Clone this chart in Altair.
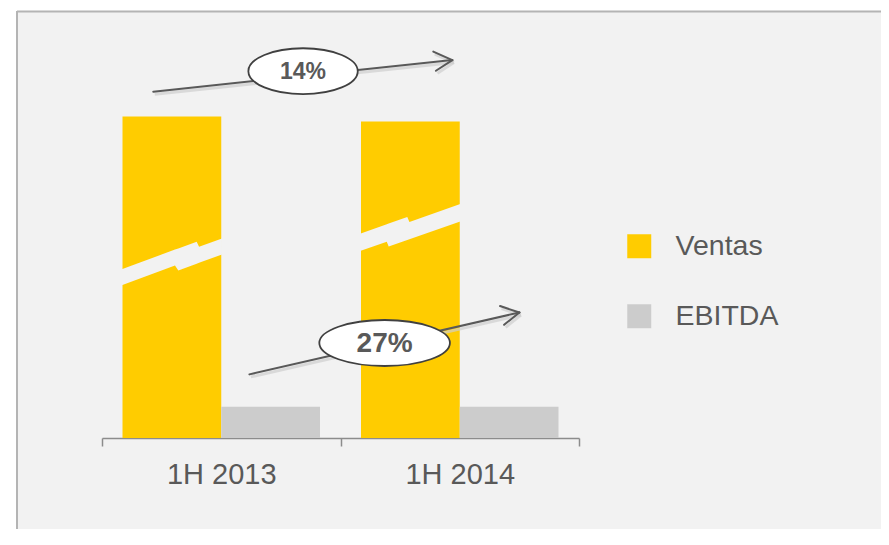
import altair as alt
import pandas as pd

# ---------------- data ----------------
periodos = ["1H 2013", "1H 2014"]
series = ["Ventas", "EBITDA"]
ventas = [75.3, 74.1]
ebitda = [7.3, 7.3]

# growth annotations (x in period units: 0..2, y in value units)
crec_labels = ["14%", "27%"]
crec_x = [0.843, 1.185]
crec_y = [85.9, 22.25]

arrow_start_x = [0.215, 0.618]
arrow_start_y = [81.1, 14.9]
arrow_tip_x = [1.469, 1.750]
arrow_tip_y = [88.5, 29.4]
arm1_x = [1.389, 1.669]
arm1_y = [90.5, 30.9]
arm2_x = [1.400, 1.686]
arm2_y = [86.0, 26.5]

# axis-break bands through the Ventas bars
brk13_x = [0.080, 0.306, 0.320, 0.397, 0.407, 0.503]
brk13_top = [39.48, 44.12, 44.40, 45.97, 44.78, 46.74]
brk13_bot = [35.74, 40.37, 39.25, 40.82, 41.03, 43.00]
brk14_x = [1.082, 1.194, 1.202, 1.280, 1.289, 1.505]
brk14_top = [47.86, 50.05, 50.21, 51.73, 50.61, 54.85]
brk14_bot = [43.78, 45.97, 44.85, 46.37, 46.53, 50.77]

# ---------------- tables ----------------
bars_df = pd.DataFrame({
    "periodo": periodos * 2,
    "serie": [series[0]] * 2 + [series[1]] * 2,
    "valor": ventas + ebitda,
})

brk_df = pd.DataFrame({
    "brk": ["a"] * len(brk13_x) + ["b"] * len(brk14_x),
    "x": brk13_x + brk14_x,
    "top": brk13_top + brk14_top,
    "bot": brk13_bot + brk14_bot,
})

seg_rows = []
for i in range(2):
    seg_rows.append((arrow_start_x[i], arrow_start_y[i], arrow_tip_x[i], arrow_tip_y[i]))
    seg_rows.append((arm1_x[i], arm1_y[i], arrow_tip_x[i], arrow_tip_y[i]))
    seg_rows.append((arm2_x[i], arm2_y[i], arrow_tip_x[i], arrow_tip_y[i]))
seg_df = pd.DataFrame(seg_rows, columns=["x", "y", "x2", "y2"])

# ---------------- styles ----------------
FONT = "Liberation Sans"
TXT = "#595959"
W, H = 864, 518
BASE = 427
XR = [85, 562]

ysc = alt.Scale(domain=[0, 100], range=[BASE, 0])
xq = alt.Scale(domain=[0, 2], range=XR)

bars = alt.Chart(bars_df).mark_bar().encode(
    x=alt.X("periodo:N", sort=periodos,
            scale=alt.Scale(range=XR, paddingInner=0, paddingOuter=0),
            axis=alt.Axis(title=None, labelAngle=0, offset=BASE - H, tickBand="extent",
                          domainColor="#8c8c8c", tickColor="#8c8c8c", domainWidth=1.5,
                          tickWidth=1.5, tickSize=8, labelFontSize=29, labelColor=TXT,
                          labelFont=FONT, labelPadding=14, grid=False)),
    xOffset=alt.XOffset("serie:N", sort=series,
                        scale=alt.Scale(paddingInner=0, paddingOuter=0.2076)),
    y=alt.Y("valor:Q", scale=ysc, axis=None),
    color=alt.Color("serie:N", sort=series,
                    scale=alt.Scale(domain=series, range=["#FFCC00", "#CCCCCC"]),
                    legend=alt.Legend(title=None, orient="none", legendX=608, legendY=221,
                                      symbolType="square", symbolSize=576,
                                      symbolStrokeWidth=0, symbolOpacity=1,
                                      labelFontSize=28.5, labelFont=FONT, labelColor=TXT,
                                      labelOffset=22, rowPadding=41, padding=0)),
)

breaks = alt.Chart(brk_df).mark_area(color="#f2f2f2", opacity=1).encode(
    x=alt.X("x:Q", scale=xq, axis=None),
    y=alt.Y("top:Q", scale=ysc, axis=None),
    y2="bot:Q",
    detail="brk:N",
)

shadow = alt.Chart(seg_df).mark_rule(color="#cfcfcf", strokeWidth=3, opacity=0.7,
                                     xOffset=1.5, yOffset=2.5, x2Offset=1.5, y2Offset=2.5).encode(
    x=alt.X("x:Q", scale=xq, axis=None),
    y=alt.Y("y:Q", scale=ysc, axis=None),
    x2="x2:Q", y2="y2:Q",
)

arrows = alt.Chart(seg_df).mark_rule(color=TXT, strokeWidth=2, strokeCap="round").encode(
    x=alt.X("x:Q", scale=xq, axis=None),
    y=alt.Y("y:Q", scale=ysc, axis=None),
    x2="x2:Q", y2="y2:Q",
)

ell_ratio = [0.42, 0.352]
ell_size = [11968, 17056]
font_sizes = [23, 28]
layers = [bars, breaks, shadow, arrows]
for i in range(2):
    one = pd.DataFrame({"x": [crec_x[i]], "y": [crec_y[i]], "t": [crec_labels[i]]})
    r = ell_ratio[i]
    path = f"M -1 0 A 1 {r} 0 1 1 1 0 A 1 {r} 0 1 1 -1 0 Z"
    ell = alt.Chart(one).mark_point(shape=path, size=ell_size[i], fill="white",
                                    fillOpacity=1, stroke="#404040", strokeWidth=1.8,
                                    opacity=1).encode(
        x=alt.X("x:Q", scale=xq, axis=None),
        y=alt.Y("y:Q", scale=ysc, axis=None),
    )
    txt = alt.Chart(one).mark_text(font=FONT, fontWeight="bold", fontSize=font_sizes[i],
                                   color=TXT, baseline="middle", align="center", dy=1).encode(
        x=alt.X("x:Q", scale=xq, axis=None),
        y=alt.Y("y:Q", scale=ysc, axis=None),
        text="t:N",
    )
    layers += [ell, txt]

frame_df = pd.DataFrame({"k": [0]})
top_line = alt.Chart(frame_df).mark_rule(color="#b4b4b4", strokeWidth=2).encode(
    x=alt.value(0), x2=alt.value(W), y=alt.value(0.5))
left_line = alt.Chart(frame_df).mark_rule(color="#b4b4b4", strokeWidth=2).encode(
    x=alt.value(0), y=alt.value(0), y2=alt.value(H))
layers += [top_line, left_line]

chart = alt.layer(*layers).resolve_scale(x="independent").properties(
    width=W, height=H,
    padding={"left": 9, "top": 3, "right": 0, "bottom": 0},
    autosize=alt.AutoSizeParams(type="none"),
    background="white",
).configure_view(stroke="transparent", fill="#f2f2f2")

chart.save("out.html", embed_options={"renderer": "svg", "actions": False})
